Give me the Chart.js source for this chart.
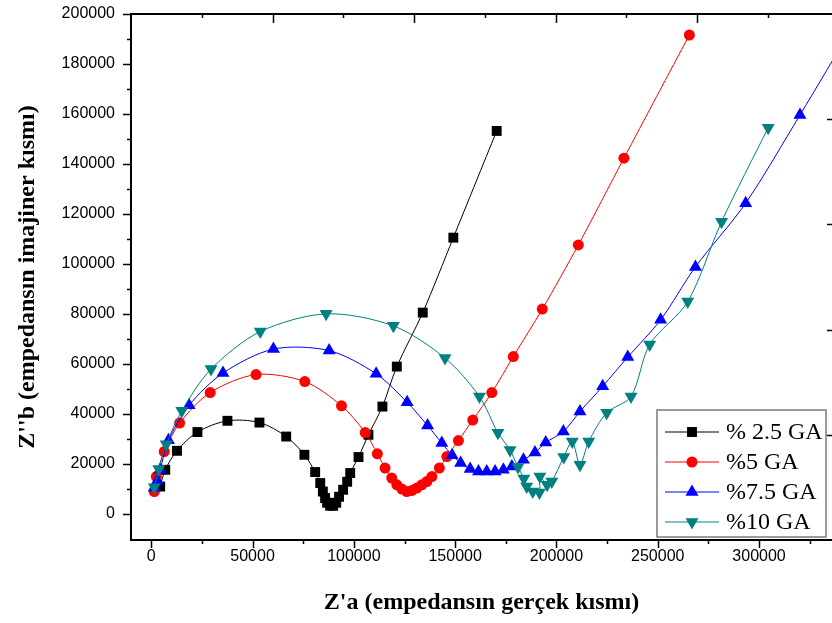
<!DOCTYPE html>
<html>
<head>
<meta charset="utf-8">
<title>Nyquist</title>
<script src="https://cdn.jsdelivr.net/npm/chart.js@4.4.1/dist/chart.umd.min.js"></script>
<style>
  html, body { margin: 0; padding: 0; background: #fff; }
  canvas { display: block; }
</style>
</head>
<body>
<canvas id="nyq" width="832" height="623"></canvas>
<script>
// Z' (gercek) ve Z'' (imajiner) degerleri, ohm
const ga25Re = [4400, 6900, 12700, 22800, 37600, 53400, 66600, 75600, 80900, 83400, 84700, 85800, 86800, 88300, 89800, 91300, 92700, 94700, 96700, 98200, 102300, 107200, 114100, 121200, 134000, 149100, 170500];
const ga25Im = [10900, 17600, 25200, 32700, 37200, 36500, 30900, 23600, 16700, 12300, 8900, 6300, 4400, 3200, 3200, 4400, 6800, 9600, 12800, 16300, 22700, 31600, 42900, 58900, 80500, 110500, 153200];

const ga5Re = [1500, 2500, 6400, 14000, 29100, 51700, 75800, 93900, 105600, 111600, 115400, 118700, 121200, 123700, 126100, 128600, 131100, 133500, 136000, 138500, 142200, 145900, 151600, 158700, 168100, 178700, 193000, 210800, 233300, 265600];
const ga5Im = [8900, 14900, 24900, 36300, 48500, 55700, 52900, 43200, 32500, 24000, 18300, 14300, 11600, 9900, 8900, 9300, 10300, 11600, 12900, 14900, 18300, 22900, 29300, 37500, 48500, 62900, 81900, 107600, 142300, 191600];

const ga75Re = [1500, 3000, 4400, 8500, 18700, 35400, 60300, 87800, 111000, 126300, 136400, 143400, 148500, 152700, 157400, 161500, 165600, 169700, 173800, 178000, 183700, 189400, 194700, 203400, 211600, 222800, 235200, 251400, 268600, 293400, 320200, 347000];
const ga75Im = [10400, 13200, 17600, 29400, 43400, 56300, 65900, 65300, 56000, 44600, 35300, 28300, 23400, 20300, 17900, 16900, 16900, 16900, 17600, 18900, 21600, 24500, 28500, 32900, 40900, 51000, 62700, 77600, 98800, 124300, 159600, 196000];

const ga10Re = [1500, 3700, 7400, 15100, 29500, 53800, 86300, 119500, 145000, 162000, 171100, 177100, 181000, 183900, 185300, 188300, 191600, 191800, 195400, 197700, 203600, 207800, 211600, 215900, 224800, 236800, 246000, 264800, 281500, 304500];
const ga10Im = [10600, 17900, 27800, 41200, 57900, 72900, 80000, 75200, 62300, 46900, 32400, 25500, 18700, 14100, 10900, 8900, 8500, 14900, 11600, 12900, 22700, 28900, 19600, 28900, 40400, 46900, 67700, 84900, 116900, 154500];

const seriesNames = ["% 2.5 GA", "%5 GA", "%7.5 GA", "%10 GA"];
const xTickValues = [0, 50000, 100000, 150000, 200000, 250000, 300000];
const yTickValues = [0, 20000, 40000, 60000, 80000, 100000, 120000, 140000, 160000, 180000, 200000];

const pts = (re, im) => re.map((v, i) => ({ x: v, y: im[i] }));

const mkSet = (label, re, im, color, style, rot, r, order) => ({
  label: label,
  data: pts(re, im),
  showLine: true,
  borderColor: color,
  backgroundColor: color,
  borderWidth: 1,
  tension: 0.3,
  pointStyle: style,
  rotation: rot,
  pointRadius: r,
  pointBorderWidth: 0,
  order: order
});

// scale kendi kenar boslugunu eklemesin
const noPad = s => { s.paddingTop = 0; s.paddingBottom = 0; s.paddingLeft = 0; s.paddingRight = 0; };

// eksen cercevesi, tik isaretleri ve lejant
const frame = {
  id: "frame",
  afterDraw(chart) {
    const ctx = chart.ctx;
    const a = chart.chartArea;
    const sx = chart.scales.x, sy = chart.scales.y;
    const tx = chart.scales.x2, ty = chart.scales.y2;
    ctx.save();
    ctx.strokeStyle = "#000";
    ctx.lineWidth = 2;
    ctx.beginPath();
    ctx.moveTo(a.left - 1, a.top);
    ctx.lineTo(a.right, a.top);
    ctx.stroke();

    ctx.lineWidth = 1.5;
    ctx.beginPath();
    yTickValues.forEach(v => {
      const p = Math.round(sy.getPixelForValue(v)) + 0.5;
      ctx.moveTo(a.left, p); ctx.lineTo(a.left - 8, p);
      if (v + 10000 <= 200000) {
        const q = Math.round(sy.getPixelForValue(v + 10000)) + 0.5;
        ctx.moveTo(a.left, q); ctx.lineTo(a.left - 4, q);
      }
    });
    xTickValues.forEach(v => {
      const p = Math.round(sx.getPixelForValue(v)) + 0.5;
      ctx.moveTo(p, a.bottom); ctx.lineTo(p, a.bottom + 8);
      const q = Math.round(sx.getPixelForValue(v + 25000)) + 0.5;
      if (q < a.right) { ctx.moveTo(q, a.bottom); ctx.lineTo(q, a.bottom + 4); }
    });
    for (let k = 0.5; k < 5; k += 0.5) {
      const p = Math.round(tx.getPixelForValue(k)) + 0.5;
      const len = Number.isInteger(k) ? 9 : 4;
      ctx.moveTo(p, a.top); ctx.lineTo(p, a.top + len);
    }
    for (let k = 1; k < 5; k++) {
      const p = Math.round(ty.getPixelForValue(k)) + 0.5;
      ctx.moveTo(a.right, p); ctx.lineTo(a.right - 5, p);
    }
    ctx.stroke();

    // lejant
    const bx = a.right - 175, by = a.top + 396, bw = 169, bh = 127;
    ctx.fillStyle = "#fff";
    ctx.fillRect(bx, by, bw, bh);
    ctx.strokeStyle = "#7a7a7a";
    ctx.lineWidth = 1.5;
    ctx.strokeRect(bx, by, bw, bh);
    ctx.font = "24px 'Liberation Serif', 'Times New Roman', serif";
    ctx.textBaseline = "middle";
    ctx.textAlign = "left";
    chart.data.datasets.forEach((ds, i) => {
      const cy = by + 22 + i * 30;
      ctx.strokeStyle = ds.borderColor;
      ctx.lineWidth = 1;
      ctx.beginPath();
      ctx.moveTo(bx + 8, cy); ctx.lineTo(bx + 62, cy);
      ctx.stroke();
      ctx.fillStyle = ds.backgroundColor;
      Chart.helpers.drawPoint(ctx, { pointStyle: ds.pointStyle, rotation: ds.rotation, radius: ds.pointRadius, borderWidth: 0 }, bx + 35, cy);
      ctx.fillStyle = "#000";
      ctx.fillText(ds.label, bx + 69, cy + 1);
    });
    ctx.restore();
  }
};

new Chart(document.getElementById("nyq"), {
  type: "scatter",
  data: {
    datasets: [
      mkSet(seriesNames[0], ga25Re, ga25Im, "#000000", "rect", 0, 7, 4),
      mkSet(seriesNames[1], ga5Re, ga5Im, "#ff0000", "circle", 0, 5.5, 3),
      mkSet(seriesNames[2], ga75Re, ga75Im, "#0000ff", "triangle", 0, 7.5, 2),
      mkSet(seriesNames[3], ga10Re, ga10Im, "#008080", "triangle", 180, 7.5, 1)
    ]
  },
  options: {
    responsive: false,
    animation: false,
    devicePixelRatio: 1,
    layout: { autoPadding: false, padding: { top: 14, right: 0, left: 0, bottom: 0 } },
    plugins: { legend: { display: false }, tooltip: { enabled: false } },
    scales: {
      x: {
        type: "linear",
        min: -10000,
        max: 336000,
        afterFit: s => { s.height = 83; noPad(s); },
        afterBuildTicks: s => { s.ticks = xTickValues.map(v => ({ value: v })); },
        grid: { display: false, drawTicks: false },
        border: { display: true, color: "#000", width: 2 },
        ticks: {
          autoSkip: false, maxRotation: 0, padding: 7, color: "#000",
          font: { family: "'Liberation Sans', Arial, sans-serif", size: 16 },
          callback: v => String(v)
        },
        title: {
          display: true, text: "Z'a (empedansın gerçek kısmı)", color: "#000",
          font: { family: "'Liberation Serif', 'Times New Roman', serif", size: 24, weight: "bold" },
          padding: { top: 0, bottom: 6 }
        }
      },
      y: {
        type: "linear",
        min: -10500,
        max: 200000,
        afterFit: s => { s.width = 131; noPad(s); },
        afterBuildTicks: s => { s.ticks = yTickValues.map(v => ({ value: v })); },
        grid: { display: false, drawTicks: false },
        border: { display: true, color: "#000", width: 2 },
        ticks: {
          autoSkip: false, padding: 16, color: "#000",
          font: { family: "'Liberation Sans', Arial, sans-serif", size: 16 },
          callback: v => String(v)
        },
        title: {
          display: true, text: "Z''b (empedansın imajiner kısmı)", color: "#000",
          font: { family: "'Liberation Serif', 'Times New Roman', serif", size: 24, weight: "bold" },
          padding: { top: 13, bottom: 0 }
        }
      },
      x2: { type: "linear", position: "top", display: false, min: 0, max: 4.954, afterFit: noPad },
      y2: { type: "linear", position: "right", display: false, min: 0, max: 5, afterFit: noPad }
    }
  },
  plugins: [frame]
});
</script>
</body>
</html>
